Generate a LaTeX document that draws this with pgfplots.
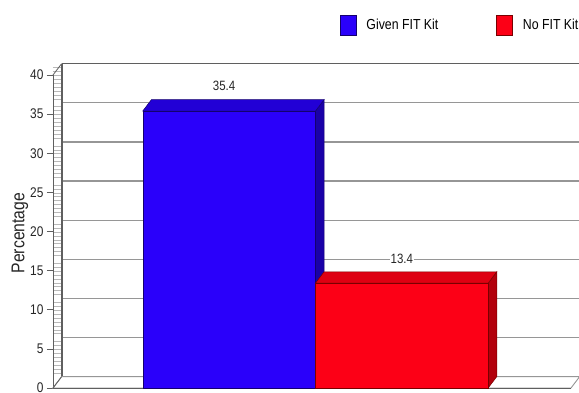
\documentclass[border=0pt]{standalone}
\usepackage{fontspec}
\setmainfont{Liberation Sans}[FakeStretch=0.85]
\usepackage{pgfplots}
\pgfplotsset{compat=1.18}

\definecolor{kitblue}{RGB}{42,0,250}
\definecolor{kitbluetop}{RGB}{34,0,214}
\definecolor{kitblueside}{RGB}{26,0,168}
\definecolor{kitblueedge}{RGB}{20,0,110}
\definecolor{kitred}{RGB}{252,0,22}
\definecolor{kitredtop}{RGB}{222,0,18}
\definecolor{kitredside}{RGB}{178,0,12}
\definecolor{kitrededge}{RGB}{120,0,0}
\definecolor{wallline}{RGB}{95,95,95}
\definecolor{gridline}{RGB}{150,150,150}

\begin{document}
\begin{tikzpicture}
\useasboundingbox (0,0) rectangle (579pt,392pt);

% back wall with horizontal grid lines, set back by the depth offset
\begin{axis}[
  at={(62pt,15.35pt)}, anchor=south west,
  width=518pt, height=313pt, scale only axis,
  xmin=-1.02, xmax=1.98, ymin=0, ymax=40,
  axis x line*=top, axis y line*=left,
  axis line style={-, wallline, line width=1.2pt},
  xtick=\empty,
  ytick={0,5,...,40}, yticklabels={},
  major tick length=0pt,
  minor y tick num=9, minor tick length=9pt, tick align=outside,
  minor tick style={gray!55, line width=0.4pt},
  ymajorgrids, major grid style={gridline, line width=1.2pt},
]
\addplot[draw=none, forget plot] coordinates {(0,0)};
\end{axis}

% front: floor, bars and value axis
\begin{axis}[
  at={(53pt,4pt)}, anchor=south west,
  width=518pt, height=313pt, scale only axis,
  xmin=-1.02, xmax=1.98, ymin=0, ymax=40,
  clip=false,
  axis x line=none, axis y line*=left,
  axis line style={-, wallline, line width=0.8pt},
  ytick={0,5,...,40}, tick align=outside, major tick length=6pt,
  major tick style={wallline, line width=0.6pt},
  /pgf/number format/assume math mode=true,
  yticklabel style={font=\fontsize{14}{16}\selectfont, text=black!85},
  ylabel={Percentage},
  ylabel style={at={(axis description cs:-0.064,0.495)}, anchor=center, rotate=0,
    font=\fontsize{18.5}{20}\selectfont, text=black!85},
  legend columns=2,
  legend style={draw=none, fill=none, at={(axis description cs:0.554,1.16)},
    anchor=west, inner sep=0pt, outer sep=0pt,
    font=\fontsize{14.5}{16}\selectfont,
    /tikz/every odd column/.append style={column sep=8pt},
    /tikz/every even column/.append style={column sep=56pt}},
  legend image code/.code={\draw[#1] (0pt,-10pt) rectangle (16pt,10pt);},
]
% floor
\addplot[fill=white, draw=gridline, line width=0.9pt, forget plot]
  coordinates {(-1.02,0) (1.98,0) (2.03,1.45) (-0.97,1.45)} -- cycle;
\addplot[wallline, line width=1pt, forget plot] coordinates {(-1.02,0) (1.98,0)};
% corner edges of the side wall
\addplot[wallline, line width=0.8pt, forget plot] coordinates {(-1.02,40) (-0.97,41.45)};
\addplot[wallline, line width=0.8pt, forget plot] coordinates {(-1.02,0) (-0.97,1.45)};

% Given FIT Kit: side and top faces, then the front
\addplot[fill=kitblueside, draw=kitblueedge, line width=0.5pt, forget plot]
  coordinates {(0.5,0) (0.5,35.4) (0.55,36.85) (0.55,1.45)} -- cycle;
\addplot[fill=kitbluetop, draw=kitblueedge, line width=0.5pt, forget plot]
  coordinates {(-0.5,35.4) (0.5,35.4) (0.55,36.85) (-0.45,36.85)} -- cycle;
\addplot[ybar, bar width=1, bar shift=0pt, fill=kitblue, draw=kitblueedge, line width=0.5pt,
  nodes near coords, nodes near coords style={anchor=center, yshift=25pt, xshift=-5pt,
    font=\fontsize{13.5}{15}\selectfont, text=black!85, fill=white, inner sep=1pt}]
  coordinates {(0,35.4)};
\addlegendentry{Given FIT Kit}

% No FIT Kit: side and top faces, then the front
\addplot[fill=kitredside, draw=kitrededge, line width=0.5pt, forget plot]
  coordinates {(1.5,0) (1.5,13.4) (1.55,14.85) (1.55,1.45)} -- cycle;
\addplot[fill=kitredtop, draw=kitrededge, line width=0.5pt, forget plot]
  coordinates {(0.5,13.4) (1.5,13.4) (1.55,14.85) (0.55,14.85)} -- cycle;
\addplot[ybar, bar width=1, bar shift=0pt, fill=kitred, draw=kitrededge, line width=0.5pt,
  nodes near coords, nodes near coords style={anchor=center, yshift=24pt,
    font=\fontsize{13.5}{15}\selectfont, text=black!85, fill=white, inner sep=1pt}]
  coordinates {(1,13.4)};
\addlegendentry{No FIT Kit}
\end{axis}
\end{tikzpicture}
\end{document}
